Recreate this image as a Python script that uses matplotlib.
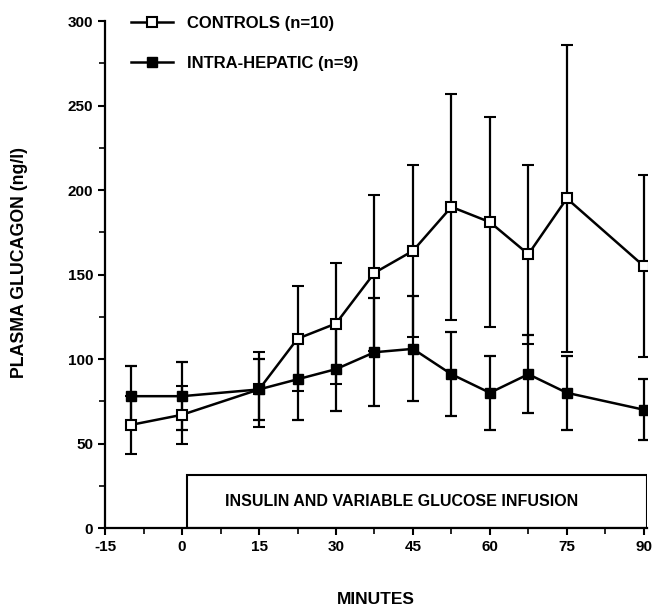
import matplotlib.pyplot as plt
from matplotlib.patches import Rectangle
from matplotlib.lines import Line2D
from matplotlib.ticker import MultipleLocator

# DATA
minutes = [-10, 0, 15, 22.5, 30, 37.5, 45, 52.5, 60, 67.5, 75, 90]
controls = [61, 67, 82, 112, 121, 151, 164, 190, 181, 162, 195, 155]
controls_err = [17, 17, 22, 31, 36, 46, 51, 67, 62, 53, 91, 54]
intra = [78, 78, 82, 88, 94, 104, 106, 91, 80, 91, 80, 70]
intra_err = [18, 20, 18, 24, 25, 32, 31, 25, 22, 23, 22, 18]

plt.rcParams['font.family'] = ['Liberation Sans', 'DejaVu Sans']
plt.rcParams['font.weight'] = 'bold'
plt.rcParams['axes.unicode_minus'] = False

fig = plt.figure(figsize=(6.53, 6.09), dpi=100)
ax = fig.add_axes([0.161, 0.133, 0.830, 0.8325])

ax.errorbar(minutes, controls, yerr=controls_err, color='black', lw=1.8,
            elinewidth=1.6, capsize=4.5, capthick=1.6, marker='s', ms=7,
            mfc='white', mec='black', mew=1.5, zorder=3)
ax.errorbar(minutes, intra, yerr=intra_err, color='black', lw=1.8,
            elinewidth=1.6, capsize=4.5, capthick=1.6, marker='s', ms=7,
            mfc='black', mec='black', zorder=3)

# infusion period box
ax.add_patch(Rectangle((0.9, 0), 89.7, 31.4, fill=False, lw=1.5, ec='black', zorder=2))
ax.text(42.7, 15.5, 'INSULIN AND VARIABLE GLUCOSE INFUSION', ha='center', va='center',
        fontsize=11.5, fontweight='bold')

ax.set_xlim(-15, 90.65)
ax.set_ylim(0, 300)
ax.set_xticks(range(-15, 91, 15))
ax.set_yticks(range(0, 301, 50))
ax.xaxis.set_minor_locator(MultipleLocator(7.5))
ax.yaxis.set_minor_locator(MultipleLocator(25))
ax.tick_params(which='major', length=5, width=1.5, labelsize=11, direction='out')
ax.tick_params(which='minor', length=4, width=1.2, direction='out')
for lab in ax.get_xticklabels() + ax.get_yticklabels():
    lab.set_fontweight('bold')

for s in ['top', 'right']:
    ax.spines[s].set_visible(False)
for s in ['left', 'bottom']:
    ax.spines[s].set_linewidth(1.6)

ax.set_ylabel('PLASMA GLUCAGON (ng/l)', fontsize=12.8, fontweight='bold')
ax.yaxis.set_label_coords(-0.142, 0.523)
ax.set_xlabel('MINUTES', fontsize=12.5, fontweight='bold')
ax.xaxis.set_label_coords(0.5, -0.127)

handles = [
    Line2D([], [], color='black', lw=1.8, marker='s', ms=7, mfc='white', mec='black', mew=1.5),
    Line2D([], [], color='black', lw=1.8, marker='s', ms=7, mfc='black', mec='black'),
]
ax.legend(handles, ['CONTROLS (n=10)', 'INTRA-HEPATIC (n=9)'], loc='upper left',
          bbox_to_anchor=(0.02, 1.04), frameon=False, handlelength=2.5,
          handletextpad=0.85, labelspacing=1.5, prop={'weight': 'bold', 'size': 12})

fig.savefig('out.png', dpi=100)
